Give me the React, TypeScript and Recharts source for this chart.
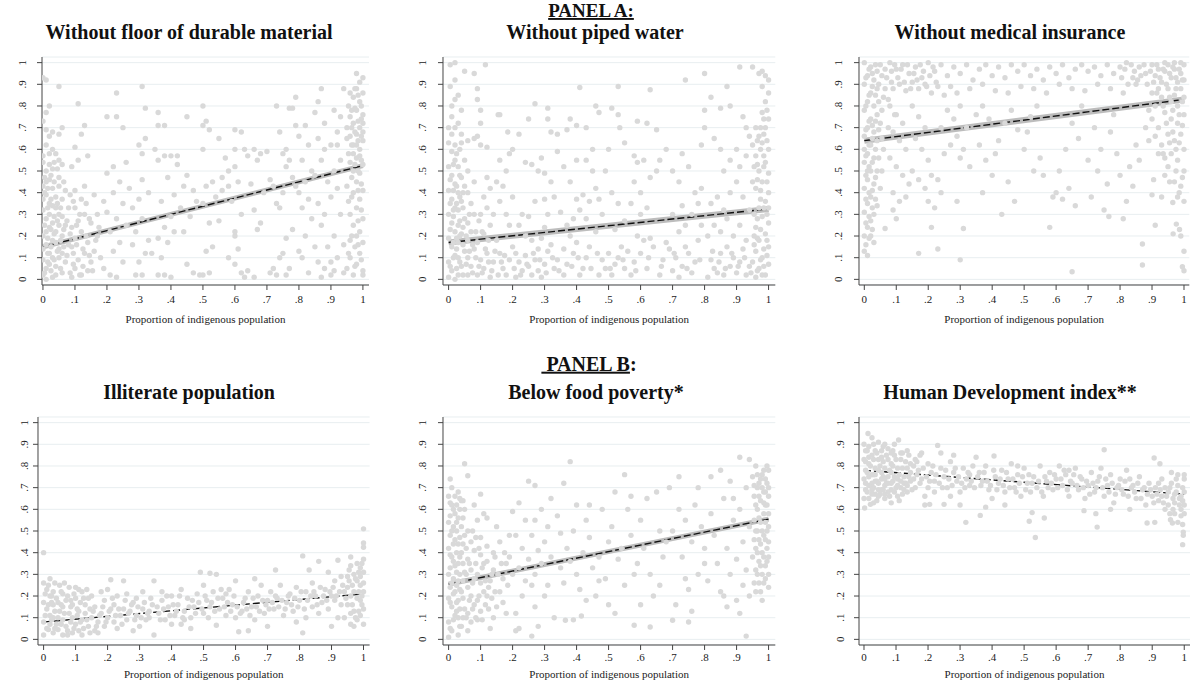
import {
  CartesianGrid,
  ComposedChart,
  Line,
  Scatter,
  XAxis,
  YAxis,
} from "recharts";

type Pt = [number, number];

const FONT = "'Liberation Serif', 'Times New Roman', serif";

const xTicks = [0, 0.1, 0.2, 0.3, 0.4, 0.5, 0.6, 0.7, 0.8, 0.9, 1];
const yTicks = [0, 0.1, 0.2, 0.3, 0.4, 0.5, 0.6, 0.7, 0.8, 0.9, 1];
const axisTitle = "Proportion of indigenous population";

/* fitted values at x = 0 and x = 1 */
const floorFit = [0.15, 0.525];
const waterFit = [0.17, 0.325];
const insuranceFit = [0.64, 0.83];
const illiterateFit = [0.08, 0.21];
const foodFit = [0.255, 0.555];
const hdiFit = [0.78, 0.67];

const floorPts: Pt[] = [
  [0,.02],[.01,.05],[0,.09],[.02,.12],[.01,.16],[0,.2],[.02,.24],[.01,.28],[0,.32],[.02,.35],[.01,.39],[0,.43],[.02,.46],[.01,.5],[0,.54],
  [.03,.01],[.04,.06],[.03,.1],[.05,.14],[.03,.18],[.04,.22],[.03,.26],[.05,.3],[.03,.34],[.04,.38],[.03,.42],[.05,.47],[.03,.51],
  [.06,.03],[.07,.08],[.06,.12],[.08,.16],[.06,.2],[.07,.25],[.06,.29],[.08,.33],[.06,.37],[.07,.41],
  [.01,0],[.02,.07],[0,.14],[.01,.22],[.02,.3],[0,.37],[.01,.45],[.02,.53],[.04,.02],[.05,.1],[.04,.17],[.05,.25],[.04,.33],[.05,.43],
  [0,.93],[.01,.92],[.05,.89],[.02,.8],[.01,.77],[0,.73],[.01,.69],[.03,.68],[.06,.7],[.02,.66],[.05,.67],[.01,.62],[.03,.6],[.04,.58],[0,.57],[.05,.55],[.02,.58],[.06,.53],
  [.09,.01],[.1,.05],[.12,.02],[.14,.04],[.11,.09],[.13,.12],[.09,.15],[.15,.08],[.1,.19],[.12,.22],[.14,.17],[.16,.13],[.09,.24],[.11,.27],[.13,.3],[.1,.33],[.12,.37],[.15,.26],[.17,.2],[.18,.1],[.19,.05],[.17,.3],[.19,.36],[.1,.41],[.13,.43],[.16,.39],[.11,.55],[.14,.57],[.09,.52],[.12,.67],[.1,.61],[.11,.81],[.13,.71],
  [.21,.02],[.23,.01],[.25,.08],[.22,.13],[.24,.17],[.21,.22],[.26,.25],[.23,.28],[.2,.31],[.25,.35],[.22,.4],[.27,.42],[.24,.45],[.28,.16],[.3,.08],[.29,.02],[.31,.02],[.32,.12],[.33,.18],[.29,.22],[.31,.28],[.28,.33],[.3,.37],[.33,.4],[.31,.46],[.3,.62],[.32,.65],[.31,.58],[.34,.12],[.2,.75],[.23,.75],[.23,.86],[.31,.89],[.32,.79],[.25,.7],[.2,.49],[.22,.52],[.26,.54],
  [.36,.02],[.38,.02],[.4,.01],[.37,.1],[.39,.17],[.41,.22],[.38,.24],[.36,.19],[.4,.29],[.43,.33],[.37,.36],[.41,.39],[.44,.43],[.39,.47],[.42,.53],[.36,.55],[.38,.57],[.45,.48],[.47,.41],[.48,.36],[.46,.29],[.44,.22],[.45,.07],[.47,.03],[.49,.02],[.36,.77],[.36,.71],[.38,.71],[.45,.75],[.4,.57],[.42,.57],[.35,.6],
  [.5,.02],[.52,.03],[.51,.13],[.53,.15],[.55,.27],[.52,.26],[.5,.35],[.54,.38],[.51,.43],[.53,.45],[.56,.41],[.5,.8],[.5,.71],[.51,.73],[.52,.69],[.5,.6],[.58,.5],[.57,.56],[.6,.52],[.61,.45],[.59,.36],[.62,.3],[.6,.22],[.6,.2],[.61,.14],[.58,.1],[.6,.07],[.62,.03],[.63,.01],[.64,.04],[.56,.47],[.63,.6],[.6,.6],[.62,.68],[.64,.57],[.58,.43],[.55,.65],[.6,.69],
  [.66,.01],[.68,.26],[.67,.23],[.66,.32],[.69,.4],[.65,.44],[.67,.55],[.66,.6],[.68,.58],[.7,.59],[.72,.05],[.71,.03],[.73,.02],[.74,.1],[.75,.12],[.76,.02],[.77,.05],[.73,.35],[.74,.33],[.75,.4],[.72,.43],[.78,.47],[.76,.52],[.77,.55],[.79,.43],[.75,.58],[.73,.8],[.77,.79],[.78,.79],[.79,.71],[.76,.6],[.78,.23],[.76,.19],[.8,.13],[.74,.68],[.71,.46],
  [.81,.1],[.83,.03],[.82,.2],[.84,.28],[.81,.33],[.83,.37],[.8,.4],[.82,.45],[.84,.5],[.81,.55],[.83,.62],[.8,.66],[.82,.71],[.79,.84],[.85,.77],[.87,.88],[.86,.82],[.88,.72],[.86,.65],[.88,.6],[.87,.55],[.85,.48],[.89,.45],[.86,.35],[.88,.3],[.87,.25],[.85,.15],[.86,.08],[.88,.05],[.87,.01],[.9,.02],[.9,.08],[.91,.04],[.92,.1],[.89,.15],[.91,.2],[.9,.38],[.92,.42],[.91,.5],[.93,.55],[.9,.62],[.92,.68],[.93,.75],[.94,.88],[.91,.78],[.93,.3],[.94,.16],[.94,.03],[.92,.62],
  [.95,.05],[.96,.1],[.97,.02],[.98,.07],[.99,.12],[1,.04],[.96,.18],[.98,.2],[1,.17],[.99,.22],[.97,.25],[.96,.3],[.98,.33],[1,.28],[.99,.37],[.97,.4],[.95,.43],[.98,.45],[1,.41],[.99,.49],[.97,.5],[.96,.54],[.98,.56],[1,.53],[.99,.6],[.97,.62],[.95,.65],[.98,.67],[1,.64],[.99,.7],[.97,.72],[.96,.75],[.98,.78],[1,.76],[.99,.82],[.97,.84],[.98,.88],[1,.86],[.99,.91],[.98,.95],[1,.93],[.96,.86],[1,.02],[.97,.58],[.96,.66],[.95,.7],[.99,.57],[1,.68],[1,.72],[.98,.62],
];
const floorDense: Pt[] = [
  [.005,.03],[.015,.08],[.025,.04],[.035,.09],[.045,.13],[.015,.12],[.025,.15],[.035,.21],[.045,.27],[.015,.19],[.025,.23],[.005,.25],[.035,.29],[.015,.33],[.025,.37],[.045,.35],[.005,.4],[.035,.45],[.015,.42],[.025,.48],[.045,.51],[.005,.47],[.035,.54],[.055,.05],[.065,.15],[.075,.11],[.055,.18],[.065,.23],[.075,.27],[.055,.33],[.065,.45],[.085,.03],[.095,.07],[.085,.21],[.095,.12],[.105,.16],[.115,.02],[.125,.06],[.105,.25],[.115,.3],[.095,.36],[.085,.39],[.135,.2],[.145,.11],[.125,.14],[.155,.04],[.165,.18],[.175,.24],[.135,.35],[.145,.28],
  [.955,.12],[.965,.2],[.975,.15],[.985,.27],[.995,.32],[.955,.36],[.965,.47],[.975,.53],[.985,.41],[.995,.44],[.955,.58],[.965,.62],[.975,.68],[.985,.64],[.995,.74],[.955,.8],[.965,.78],[.975,.88],[.985,.85],[.995,.8],[.975,.79],[.985,.73],[.965,.7],[.995,.66],[.975,.06],[.985,.16],[.995,.09],[.965,.38],[.985,.5],[.995,.55],
];

const waterPts: Pt[] = [
  [0,.01],[.01,.04],[0,.08],[.02,.11],[.01,.15],[0,.19],[.02,.22],[.01,.26],[0,.3],[.02,.33],[.01,.37],[0,.41],[.02,.44],[.01,.48],[0,.52],[.02,.55],[.01,.59],[0,.63],[.01,.67],[0,.7],[.02,.62],
  [.03,.02],[.04,.06],[.03,.1],[.05,.13],[.03,.17],[.04,.21],[.03,.25],[.05,.28],[.03,.32],[.04,.36],[.03,.4],[.05,.43],[.04,.47],[.03,.52],[.05,.55],[.04,.63],[.06,.5],
  [.02,0],[.06,.02],[.07,.06],[.06,.1],[.08,.14],[.06,.18],[.07,.22],[.06,.26],[.08,.3],[.07,.35],[.06,.4],[.08,.45],
  [.005,.99],[.02,1],[.005,.89],[.02,.92],[.05,.96],[.08,.95],[.115,.99],[.09,.88],[.1,.78],[.09,.83],[.02,.83],[.01,.8],[.03,.85],[.01,.75],[.04,.78],[.03,.72],[.02,.7],[.04,.67],[.06,.64],[.08,.65],[.09,.66],[.1,.72],[.12,.61],[.1,.62],
  [.09,.02],[.11,.05],[.13,.01],[.1,.09],[.12,.12],[.14,.08],[.09,.17],[.11,.21],[.13,.25],[.15,.18],[.16,.12],[.17,.05],[.18,.02],[.19,.09],[.1,.3],[.12,.33],[.14,.3],[.11,.38],[.13,.42],[.16,.36],[.18,.3],[.15,.45],[.17,.43],[.19,.25],[.2,.15],[.18,.5],[.16,.55],[.19,.58],[.2,.38],[.12,.47],[.155,.76],[.16,.76],[.185,.68],[.2,.6],
  [.21,.01],[.23,.04],[.22,.08],[.24,.11],[.21,.12],[.25,.06],[.26,.02],[.27,.09],[.28,.14],[.26,.18],[.24,.2],[.22,.25],[.23,.3],[.25,.29],[.27,.36],[.28,.04],[.29,.01],[.3,.07],[.31,.13],[.29,.19],[.3,.24],[.32,.16],[.33,.05],[.34,.09],[.31,.3],[.33,.38],[.3,.37],[.28,.5],[.26,.53],[.24,.54],[.3,.49],[.32,.45],[.35,.31],[.27,.81],[.31,.79],[.25,.74],[.31,.74],[.32,.68],[.34,.67],[.22,.67],[.29,.56],[.34,.59],
  [.36,.02],[.37,.07],[.39,.12],[.36,.14],[.38,.2],[.4,.17],[.42,.05],[.41,.02],[.43,.1],[.44,.15],[.37,.25],[.39,.28],[.41,.32],[.43,.28],[.4,.37],[.42,.39],[.38,.45],[.36,.52],[.4,.55],[.43,.55],[.45,.5],[.46,.42],[.44,.36],[.47,.37],[.48,.3],[.46,.22],[.48,.09],[.49,.05],[.47,.02],[.41,.885],[.46,.8],[.47,.77],[.38,.74],[.4,.71],[.43,.7],[.37,.69],[.45,.6],[.49,.5],
  [.51,.02],[.52,.07],[.5,.12],[.53,.1],[.55,.05],[.54,.15],[.56,.13],[.57,.02],[.58,.08],[.6,.12],[.62,.05],[.61,.18],[.59,.2],[.63,.19],[.64,.15],[.52,.23],[.55,.27],[.53,.35],[.51,.4],[.57,.35],[.6,.3],[.62,.33],[.58,.45],[.6,.4],[.61,.55],[.59,.54],[.63,.47],[.65,.5],[.55,.63],[.51,.79],[.53,.89],[.53,.76],[.535,.7],[.59,.73],[.62,.72],[.63,.875],[.65,.69],[.58,.57],[.5,.6],
  [.66,.02],[.67,.09],[.69,.14],[.68,.17],[.7,.04],[.71,.1],[.72,.01],[.73,.06],[.74,.15],[.75,.12],[.76,.03],[.77,.08],[.78,.18],[.72,.22],[.74,.25],[.7,.3],[.73,.34],[.76,.3],[.78,.35],[.79,.25],[.72,.45],[.7,.5],[.73,.58],[.75,.52],[.68,.6],[.66,.55],[.74,.92],[.77,.4],[.79,.42],[.8,.7],[.8,.78],[.79,.62],
  [.81,.01],[.83,.05],[.82,.09],[.84,.03],[.85,.12],[.86,.02],[.88,.06],[.87,.15],[.89,.1],[.9,.03],[.91,.08],[.92,.14],[.93,.02],[.94,.06],[.81,.2],[.83,.25],[.85,.22],[.87,.28],[.89,.2],[.91,.25],[.93,.18],[.82,.35],[.84,.38],[.86,.32],[.88,.4],[.9,.45],[.92,.38],[.94,.32],[.8,.95],[.91,.98],[.95,.98],[.87,.89],[.82,.84],[.85,.79],[.88,.8],[.92,.75],[.93,.7],[.94,.66],[.9,.6],[.88,.55],[.86,.5],[.91,.52],[.93,.57],[.83,.65],[.85,.6],
  [.96,.01],[.97,.05],[.99,.02],[1,.07],[.98,.1],[.96,.13],[1,.15],[.97,.18],[.99,.21],[.96,.24],[1,.26],[.98,.29],[.97,.33],[.99,.36],[1,.4],[.96,.42],[.98,.45],[1,.49],[.97,.5],[.99,.54],[.96,.57],[1,.6],[.98,.63],[.97,.66],[.99,.7],[1,.74],[.98,.77],[.99,.82],[1,.86],[.98,.89],[1,.92],[.97,.95],[.99,.94],[.98,.96],[.96,.7],[.95,.62],[.95,.45],[.95,.08],[1,.33],[.98,.02],
];
const waterDense: Pt[] = [
  [.005,.06],[.015,.1],[.025,.05],[.035,.08],[.045,.02],[.015,.17],[.025,.14],[.035,.2],[.045,.16],[.005,.23],[.015,.29],[.025,.19],[.035,.27],[.045,.24],[.005,.35],[.015,.32],[.025,.35],[.035,.38],[.045,.33],[.005,.46],[.015,.41],[.025,.43],[.035,.48],[.045,.4],[.025,.58],[.015,.53],[.035,.6],[.055,.07],[.065,.13],[.075,.03],[.085,.1],[.095,.06],[.055,.2],[.065,.3],[.075,.16],[.085,.22],[.095,.27],[.105,.03],[.115,.14],[.125,.08],[.135,.04],[.145,.13],[.155,.02],[.165,.08],[.175,.11],[.105,.22],[.125,.18],
  [.205,.05],[.225,.02],[.245,.07],[.265,.12],[.285,.09],[.305,.03],[.325,.1],[.345,.04],[.385,.06],[.405,.1],[.445,.05],[.465,.12],[.505,.05],[.545,.09],[.585,.04],[.625,.1],[.665,.06],[.705,.12],[.745,.05],[.785,.09],[.825,.13],[.845,.08],[.865,.05],[.885,.12],[.905,.06],[.925,.1],[.945,.03],
  [.965,.04],[.975,.09],[.985,.06],[.995,.11],[.955,.16],[.965,.19],[.975,.23],[.985,.14],[.995,.18],[.965,.28],[.975,.37],[.985,.33],[.995,.3],[.965,.46],[.975,.41],[.985,.52],[.995,.45],[.965,.53],[.975,.6],[.985,.57],[.995,.64],[.975,.7],[.985,.67],[.995,.78],[.985,.74],[.965,.64],[.955,.3],[.955,.2],[.955,.52],
];

const insurancePts: Pt[] = [
  [0,.13],[.01,.11],[.03,.17],[0,.2],[.01,.24],[.02,.27],[0,.31],[.01,.35],[.03,.3],[.02,.38],[0,.42],[.01,.46],[.03,.44],[.02,.5],[0,.54],[.01,.58],[.03,.56],[.02,.62],[0,.66],[.01,.7],[.03,.68],[.02,.74],[0,.78],[.01,.82],[.03,.8],[.02,.86],[0,.9],[.01,.94],[.03,.92],[.02,.98],[0,1],[.04,.96],[.04,.88],[.04,.76],[.04,.64],[.04,.5],[.05,.42],[.04,.34],[.06,.6],[.05,.72],[.06,.84],[.05,.99],[.07,.93],[0,.6],[.01,.5],[.02,.2],
  [.08,1],[.1,.97],[.12,.99],[.14,.95],[.16,.98],[.18,.93],[.2,1],[.22,.96],[.24,.99],[.26,.94],[.28,.98],[.3,.95],[.32,.99],[.34,.92],[.36,.97],[.38,.99],[.4,.94],[.42,.98],[.44,.93],[.46,.99],[.48,.96],[.5,.99],[.52,.94],[.54,.97],[.56,.92],[.58,.98],[.6,.95],[.62,.99],[.64,.93],[.66,.97],[.68,.99],[.7,.96],[.72,.98],[.74,.94],[.76,.99],[.78,.95],[.8,.98],[.82,1],[.84,.93],[.86,.98],[.88,.95],[.9,.99],
  [.09,.88],[.11,.9],[.13,.87],[.15,.91],[.17,.88],[.19,.9],[.21,.86],[.23,.89],[.25,.85],[.27,.89],[.29,.86],[.33,.88],[.37,.9],[.41,.87],[.45,.86],[.49,.89],[.53,.88],[.57,.86],[.61,.9],[.65,.88],[.69,.87],[.73,.9],[.77,.88],[.81,.86],[.85,.9],
  [.08,.8],[.1,.76],[.12,.72],[.09,.68],[.11,.64],[.13,.6],[.08,.56],[.1,.52],[.12,.48],[.14,.44],[.09,.4],[.11,.36],[.13,.38],[.065,.235],[.1,.28],[.09,.32],[.15,.8],[.17,.75],[.19,.7],[.16,.65],[.18,.6],[.2,.55],[.15,.5],[.17,.46],[.19,.42],[.21,.48],[.17,.12],[.21,.24],[.23,.14],[.22,.33],[.2,.36],[.24,.4],[.23,.46],[.25,.58],[.27,.62],[.24,.7],[.26,.78],[.28,.74],[.3,.8],[.29,.66],[.31,.6],[.33,.52],[.3,.56],[.29,.36],[.3,.09],[.31,.235],[.32,.7],[.35,.76],[.37,.8],[.39,.74],[.36,.62],[.38,.55],[.4,.48],[.37,.4],[.41,.58],[.43,.3],[.42,.64],[.44,.72],[.46,.78],[.48,.69],[.45,.45],[.47,.36],[.5,.6],[.52,.75],[.54,.8],[.51,.68],[.53,.5],[.55,.56],[.56,.48],[.58,.24],[.59,.38],[.6,.4],[.61,.5],[.62,.37],[.63,.6],[.64,.42],[.65,.035],[.65,.72],[.67,.65],[.66,.34],[.68,.8],[.7,.55],[.71,.38],[.72,.7],[.73,.5],[.74,.6],[.75,.32],[.765,.29],[.76,.44],[.77,.68],[.78,.76],[.79,.58],[.8,.48],[.81,.28],[.82,.36],[.83,.52],[.84,.43],[.85,.62],[.86,.55],[.87,.066],[.87,.163],[.88,.7],[.89,.64],[.9,.39],[.91,.25],[.905,.46],[.92,.58],[.93,.38],[.94,.48],
  [.91,.94],[.92,.97],[.93,.91],[.94,.96],[.95,.99],[.96,.93],[.97,.97],[.98,.91],[.99,.95],[1,.99],[.95,.88],[.97,.85],[.99,.88],[1,.92],[.96,.82],[.98,.8],[1,.84],[.93,.84],[.91,.8],[.94,.77],[.96,.74],[.98,.72],[1,.76],[.92,.7],[.95,.67],[.97,.64],[.99,.67],[1,.6],[.93,.62],[.96,.58],[.98,.55],[1,.5],[.95,.52],[.97,.45],[.99,.43],[1,.36],[.965,.355],[.976,.255],[.986,.23],[.99,.2],[.966,.21],[1,.13],[.995,.058],[1,.04],[.98,.38],[.94,.56],[.91,.66],[.9,.74],[.89,.78],[.9,.86],[.97,1],[.94,1],[.99,1],[.92,.88],
];
const insuranceDense: Pt[] = [
  [.005,.16],[.015,.19],[.025,.23],[.005,.26],[.015,.29],[.025,.33],[.005,.37],[.015,.4],[.025,.41],[.005,.48],[.015,.52],[.025,.54],[.005,.57],[.015,.62],[.025,.65],[.005,.69],[.015,.73],[.025,.71],[.005,.8],[.015,.85],[.025,.89],[.005,.93],[.015,.97],[.025,.95],[.035,.99],[.035,.85],[.035,.73],[.035,.6],[.035,.47],[.035,.37],[.045,.9],[.045,.82],[.045,.69],[.045,.56],[.055,.94],[.055,.78],[.055,.65],[.055,.5],[.065,.97],[.065,.88],[.075,.83],[.075,.7],[.085,.96],[.085,.91],[.095,.99],[.095,.76],[.105,.93],[.115,.97],[.125,.91],[.135,.99],[.145,.88],[.155,.95],[.165,.92],[.175,.99],[.185,.96],[.195,.89],[.205,.94],[.215,.98],[.225,.91],
  [.805,.93],[.815,.97],[.825,.9],[.835,.99],[.845,.96],[.855,.92],[.865,.94],[.875,.99],[.885,.9],[.895,.96],[.905,.91],[.915,.99],[.925,.93],[.935,.97],[.945,.9],[.955,.95],[.965,.98],[.975,.93],[.985,.97],[.995,.92],[.915,.86],[.935,.8],[.955,.84],[.975,.88],[.995,.82],[.965,.78],[.985,.76],[.945,.72],[.965,.68],[.985,.63],[.995,.71],[.975,.6],[.955,.63],[.935,.58],[.955,.45],[.975,.5],[.995,.47],[.985,.4],
];

const illiteratePts: Pt[] = [
  [0,.4],[0,.02],[.01,.05],[0,.08],[.02,.11],[.01,.14],[0,.17],[.02,.2],[.01,.23],[0,.26],[.03,.03],[.04,.07],[.03,.1],[.05,.13],[.03,.16],[.04,.19],[.03,.22],[.05,.25],[.02,.28],[.06,.02],[.07,.06],[.06,.09],[.08,.12],[.06,.15],[.07,.18],[.06,.21],[.08,.24],[.09,.03],[.1,.07],[.09,.1],[.11,.13],[.09,.16],[.1,.19],[.12,.22],[.11,.04],[.12,.09],[.13,.12],[.14,.06],[.13,.16],[.15,.1],[.14,.19],[.12,.02],[.1,.24],[.11,.23],[.015,.045],[.045,.045],[.075,.04],[.025,.17],[.055,.07],[.085,.08],[.035,.26],[.02,.07],
  [.16,.04],[.17,.08],[.18,.12],[.16,.15],[.19,.06],[.2,.1],[.21,.14],[.19,.18],[.2,.23],[.21,.275],[.22,.08],[.23,.05],[.24,.11],[.22,.16],[.25,.14],[.23,.2],[.25,.27],[.26,.09],[.27,.13],[.28,.17],[.26,.21],[.29,.11],[.3,.06],[.31,.14],[.29,.19],[.32,.09],[.33,.13],[.31,.22],[.34,.16],[.345,.02],[.345,.27],[.33,.1],[.28,.04],[.18,.22],[.15,.2],[.17,.03],
  [.36,.12],[.37,.18],[.38,.09],[.39,.15],[.4,.2],[.41,.11],[.42,.16],[.43,.07],[.44,.13],[.45,.19],[.46,.1],[.47,.15],[.48,.21],[.49,.31],[.5,.12],[.51,.18],[.52,.305],[.53,.22],[.54,.3],[.54,.065],[.55,.14],[.56,.19],[.57,.11],[.58,.23],[.59,.16],[.6,.27],[.61,.035],[.6,.1],[.4,.07],[.43,.23],[.37,.22],[.5,.25],[.46,.05],[.52,.15],[.57,.21],[.44,.09],
  [.62,.13],[.63,.19],[.64,.04],[.64,.22],[.65,.15],[.66,.09],[.67,.2],[.68,.25],[.69,.12],[.7,.06],[.7,.18],[.71,.22],[.72,.14],[.725,.32],[.73,.19],[.74,.25],[.75,.11],[.76,.17],[.77,.21],[.78,.13],[.79,.24],[.8,.18],[.81,.385],[.81,.03],[.82,.1],[.82,.22],[.83,.32],[.84,.15],[.84,.26],[.85,.2],[.86,.36],[.86,.12],[.87,.17],[.88,.23],[.79,.08],[.66,.28],
  [.89,.14],[.9,.2],[.91,.27],[.92,.365],[.92,.1],[.93,.16],[.94,.22],[.95,.29],[.96,.38],[.96,.07],[.97,.13],[.98,.19],[.99,.25],[1,.31],[1,.51],[1,.445],[1,.425],[.96,.34],[.97,.3],[.98,.35],[.99,.33],[1,.37],[.95,.24],[.97,.22],[.99,.18],[1,.14],[.96,.12],[.98,.09],[1,.07],[.99,.11],[.94,.1],[.95,.16],[.97,.06],[.93,.29],[.91,.18],[.9,.06],[.89,.31],[.98,.27],[1,.22],[.96,.2],[.99,.29],[1,.26],
];
const illiterateDense: Pt[] = [
  [.005,.11],[.015,.16],[.025,.09],[.035,.13],[.045,.17],[.005,.21],[.015,.25],[.025,.2],[.035,.05],[.045,.1],[.055,.16],[.065,.12],[.075,.2],[.085,.15],[.095,.05],[.105,.11],[.115,.17],[.125,.05],[.135,.09],[.145,.14],[.055,.22],[.065,.26],[.075,.02],[.085,.18],[.095,.21],[.105,.14],[.115,.08],[.125,.19],[.135,.23],[.145,.03],
  [.155,.13],[.165,.06],[.175,.11],[.185,.15],[.195,.08],[.205,.13],[.215,.19],[.225,.11],[.235,.14],[.245,.07],[.255,.18],[.265,.12],[.275,.16],[.285,.09],[.295,.15],[.305,.1],[.315,.17],[.325,.12],[.335,.19],[.355,.15],[.365,.09],[.375,.14],[.385,.2],[.395,.11],[.405,.16],[.415,.13],[.425,.2],[.435,.1],[.455,.15],[.465,.18],[.475,.12],[.485,.17],[.495,.14],[.505,.2],[.515,.1],[.525,.17],[.535,.13],[.545,.19],[.555,.23],[.565,.15],[.575,.17],[.585,.13],[.595,.2],[.605,.15],[.615,.12],[.625,.17],[.635,.14],[.645,.11],[.655,.19],[.665,.15],[.675,.13],[.685,.18],[.695,.16],[.705,.14],[.715,.17],[.725,.2],[.735,.15],[.745,.18],[.755,.14],[.765,.2],[.775,.16],[.785,.19],[.795,.15],[.805,.22],[.815,.14],[.825,.18],[.835,.2],[.845,.22],[.855,.16],[.865,.24],[.875,.2],[.885,.18],[.895,.22],[.905,.24],[.915,.2],[.925,.22],[.935,.25],[.945,.19],[.955,.27],[.965,.25],[.975,.28],[.985,.22],[.995,.2],[.965,.16],[.975,.1],[.985,.13],[.995,.16],[.955,.32],[.985,.31],[.995,.35],
];

const foodPts: Pt[] = [
  [0,.01],[.01,.04],[0,.08],[.02,.11],[.01,.15],[0,.19],[.02,.22],[.01,.26],[0,.3],[.02,.34],[.01,.38],[0,.42],[.02,.46],[.01,.5],[0,.54],[.02,.58],[.01,.62],[0,.66],[.01,.7],[.005,.74],
  [.03,.02],[.04,.06],[.03,.1],[.05,.14],[.03,.18],[.04,.22],[.03,.27],[.05,.31],[.03,.35],[.04,.4],[.03,.44],[.05,.48],[.04,.52],[.03,.56],[.05,.6],[.04,.64],[.03,.68],[.05,.81],[.06,.755],[.02,.66],
  [.06,.04],[.07,.08],[.06,.12],[.08,.16],[.07,.2],[.06,.24],[.08,.28],[.07,.32],[.06,.37],[.08,.41],[.07,.45],[.06,.5],[.09,.09],[.1,.13],[.09,.18],[.11,.22],[.1,.26],[.09,.3],[.11,.35],[.1,.39],[.12,.43],[.1,.47],[.09,.55],[.11,.58],[.12,.2],[.13,.27],[.14,.32],[.12,.36],[.13,.05],[.15,.15],[.16,.22],[.14,.4],[.16,.45],[.15,.52],[.17,.28],[.18,.35],[.19,.38],[.17,.17],[.18,.12],[.2,.3],[.19,.48],[.2,.59],[.1,.67],[.08,.62],[.12,.56],[.14,.1],
  [.21,.04],[.22,.05],[.21,.12],[.23,.2],[.24,.27],[.22,.33],[.25,.37],[.23,.42],[.21,.48],[.24,.55],[.22,.63],[.26,.015],[.27,.15],[.28,.06],[.26,.25],[.27,.3],[.29,.35],[.28,.41],[.26,.48],[.27,.55],[.29,.6],[.25,.73],[.27,.71],[.3,.2],[.31,.25],[.32,.38],[.3,.45],[.31,.52],[.33,.1],[.32,.65],[.34,.57],[.35,.49],[.35,.33],[.36,.26],[.365,.088],[.37,.42],[.36,.72],[.38,.82],[.39,.09],[.38,.36],[.39,.5],[.4,.62],[.4,.3],
  [.415,.108],[.41,.23],[.42,.4],[.43,.55],[.44,.47],[.45,.33],[.46,.2],[.47,.38],[.48,.6],[.49,.28],[.5,.16],[.5,.45],[.51,.52],[.52,.68],[.53,.37],[.54,.42],[.55,.76],[.55,.25],[.56,.6],[.57,.48],[.58,.065],[.58,.3],[.59,.35],[.6,.55],[.6,.16],[.44,.62],[.47,.27],[.52,.12],[.57,.66],[.43,.18],
  [.61,.42],[.62,.65],[.63,.057],[.63,.3],[.64,.2],[.65,.68],[.66,.5],[.67,.38],[.68,.45],[.69,.7],[.7,.088],[.7,.5],[.71,.16],[.72,.6],[.73,.38],[.74,.55],[.74,.28],[.75,.08],[.75,.23],[.76,.45],[.77,.62],[.78,.3],[.78,.7],[.79,.52],[.8,.35],[.8,.42],[.76,.13],[.72,.75],[.66,.25],
  [.81,.27],[.82,.58],[.83,.48],[.84,.35],[.85,.22],[.86,.65],[.86,.2],[.87,.42],[.88,.73],[.88,.3],[.89,.55],[.9,.18],[.9,.37],[.91,.84],[.91,.6],[.92,.25],[.92,.45],[.93,.015],[.93,.7],[.93,.32],[.94,.83],[.94,.52],[.94,.2],[.95,.75],[.95,.38],[.85,.78],[.87,.15],[.89,.65],[.91,.12],[.82,.75],
  [.96,.22],[.97,.26],[.98,.3],[.99,.34],[1,.38],[.96,.42],[.97,.46],[.98,.5],[.99,.54],[1,.58],[.96,.62],[.97,.66],[.98,.7],[.99,.74],[1,.78],[.96,.8],[.98,.18],[1,.24],[.99,.28],[1,.45],[.99,.62],[1,.66],[1,.7],[.98,.4],[.97,.36],[.96,.32],[.99,.46],[1,.52],[.97,.56],[.98,.76],[1,.3],[.96,.5],[.97,.72],[.99,.68],
];
const foodDense: Pt[] = [
  [.005,.05],[.015,.09],[.025,.13],[.035,.06],[.045,.1],[.005,.17],[.015,.21],[.025,.17],[.035,.14],[.045,.19],[.005,.24],[.015,.28],[.025,.25],[.035,.23],[.045,.27],[.005,.33],[.015,.36],[.025,.31],[.035,.3],[.045,.35],[.005,.39],[.015,.44],[.025,.4],[.035,.38],[.045,.44],[.005,.48],[.015,.52],[.025,.5],[.035,.47],[.045,.56],[.005,.57],[.015,.6],[.025,.54],[.035,.6],[.045,.64],[.005,.63],[.025,.62],[.035,.65],
  [.055,.1],[.065,.18],[.075,.26],[.085,.1],[.095,.2],[.055,.3],[.065,.35],[.075,.14],[.085,.35],[.095,.42],[.105,.09],[.115,.16],[.125,.24],[.135,.3],[.145,.38],[.105,.33],[.115,.27],[.125,.14],[.135,.19],[.145,.22],[.055,.42],[.075,.5],[.085,.47],[.155,.3],[.165,.35],[.175,.4],[.185,.25],
  [.955,.26],[.965,.3],[.975,.34],[.985,.38],[.995,.42],[.955,.46],[.965,.5],[.975,.54],[.985,.58],[.995,.62],[.955,.66],[.965,.7],[.975,.74],[.985,.78],[.995,.8],[.955,.55],[.965,.6],[.975,.64],[.985,.68],[.995,.72],[.965,.4],[.975,.44],[.985,.48],[.995,.5],[.965,.76],[.985,.26],[.995,.36],[.975,.22],[.955,.71],[.985,.63],
];

const hdiPts: Pt[] = [
  [.0125,.95],[0,.9],[.01,.87],[0,.83],[.02,.8],[.01,.77],[0,.74],[.02,.71],[.01,.68],[0,.65],[.002,.606],[.02,.623],[.03,.63],[.03,.9],[.04,.86],[.03,.83],[.05,.8],[.03,.76],[.04,.73],[.03,.7],[.05,.67],[.04,.64],[.06,.89],[.07,.85],[.06,.82],[.08,.78],[.06,.75],[.07,.72],[.06,.69],[.08,.66],[.09,.87],[.1,.83],[.09,.8],[.11,.76],[.09,.73],[.1,.7],[.12,.67],[.108,.92],[.12,.86],[.13,.82],[.12,.79],[.14,.75],[.13,.72],[.15,.69],[.11,.64],[.14,.85],[.015,.84],[.045,.78],[.075,.75],[.025,.72],[.055,.69],[.085,.81],[.035,.67],[.065,.65],
  [.16,.83],[.17,.78],[.18,.74],[.16,.7],[.19,.66],[.2,.81],[.21,.77],[.22,.73],[.19,.62],[.205,.623],[.23,.895],[.24,.79],[.25,.75],[.25,.623],[.26,.7],[.27,.82],[.28,.77],[.29,.73],[.3,.62],[.3,.68],[.31,.79],[.318,.54],[.32,.74],[.33,.71],[.34,.8],[.35,.84],[.18,.86],[.22,.68],[.27,.66],[.2,.7],[.24,.86],[.28,.85],[.33,.76],
  [.363,.572],[.36,.77],[.37,.73],[.38,.61],[.38,.8],[.39,.69],[.406,.846],[.41,.75],[.42,.72],[.43,.78],[.44,.68],[.45,.74],[.46,.81],[.47,.7],[.48,.76],[.49,.66],[.5,.79],[.51,.72],[.516,.545],[.525,.585],[.535,.47],[.52,.68],[.53,.75],[.54,.7],[.55,.8],[.563,.56],[.56,.66],[.57,.73],[.58,.77],[.59,.69],[.6,.74],[.44,.62],[.4,.65],[.48,.8],
  [.61,.8],[.62,.71],[.63,.76],[.64,.66],[.65,.72],[.66,.79],[.67,.69],[.68,.74],[.687,.594],[.69,.65],[.7,.71],[.71,.77],[.72,.68],[.724,.58],[.728,.518],[.73,.73],[.74,.79],[.75,.875],[.75,.66],[.76,.71],[.77,.76],[.78,.63],[.79,.7],[.8,.74],[.81,.67],[.82,.78],[.83,.6],[.84,.71],[.85,.65],[.86,.75],[.87,.69],[.88,.62],[.884,.537],[.89,.72],[.9,.66],[.77,.6],[.64,.78],[.83,.74],
  [.906,.837],[.924,.81],[.908,.54],[.91,.7],[.92,.64],[.93,.74],[.94,.6],[.95,.68],[.957,.552],[.963,.537],[.96,.77],[.97,.63],[.98,.71],[.99,.66],[1,.74],[.995,.437],[.997,.48],[.997,.495],[.995,.53],[.98,.54],[.99,.6],[1,.62],[1,.68],[.96,.72],[.97,.58],[.98,.76],[.99,.57],[1,.76],[.94,.7],[.93,.66],[.95,.62],[.92,.72],[.97,.67],[1,.58],
];
const hdiDense: Pt[] = [
  [.005,.87],[.015,.81],[.025,.85],[.035,.79],[.045,.83],[.055,.87],[.065,.79],[.075,.83],[.085,.77],[.095,.85],[.105,.79],[.115,.83],[.125,.75],[.135,.79],[.145,.73],[.005,.78],[.015,.71],[.025,.76],[.035,.73],[.045,.69],[.055,.74],[.065,.71],[.075,.68],[.085,.72],[.095,.68],[.105,.74],[.115,.7],[.125,.72],[.135,.68],[.145,.77],[.005,.69],[.015,.65],[.025,.67],[.045,.66],[.065,.67],[.085,.63],[.105,.66],
  [.005,.82],[.015,.89],[.025,.93],[.035,.87],[.045,.91],[.055,.84],[.065,.9],[.075,.88],[.085,.86],[.095,.9],[.015,.75],[.035,.76],[.055,.77],[.075,.72],[.095,.75],[.115,.73],[.135,.71],[.005,.72],[.025,.69],[.045,.72],[.065,.74],[.085,.69],[.105,.71],[.125,.69],[.145,.81],[.115,.86],[.135,.87],[.155,.74],[.165,.82],[.175,.85],
  [.155,.8],[.165,.76],[.175,.72],[.185,.79],[.195,.75],[.205,.73],[.215,.8],[.225,.76],[.235,.72],[.245,.7],[.255,.78],[.265,.74],[.275,.71],[.285,.79],[.295,.75],[.305,.72],[.315,.7],[.325,.77],[.335,.73],[.345,.7],[.355,.75],[.365,.71],[.375,.77],[.385,.73],[.395,.71],[.405,.78],[.415,.69],[.425,.74],[.435,.71],[.445,.77],[.455,.7],[.465,.74],[.475,.68],[.485,.72],[.495,.75],[.505,.69],[.515,.76],[.525,.72],[.545,.73],[.555,.68],[.565,.75],[.575,.7],[.585,.72],[.595,.76],[.605,.7],[.615,.74],[.625,.78],[.635,.69],[.645,.73],[.655,.76],[.665,.71],[.675,.75],[.685,.7],[.695,.73],[.705,.67],[.715,.72],[.725,.7],[.735,.75],[.745,.7],[.755,.74],[.765,.68],[.775,.72],[.785,.67],[.795,.71],[.805,.69],[.815,.73],[.825,.66],[.835,.7],[.845,.68],[.855,.72],[.865,.65],[.875,.7],[.885,.67],[.895,.69],[.905,.63],[.915,.67],[.925,.69],[.935,.63],[.945,.66],[.955,.7],[.965,.65],[.975,.68],[.985,.62],[.995,.7],[.965,.6],[.985,.65],[.995,.64],[.975,.74],[.955,.58],
];

const fmt = (v: number) => (v === 0 ? "0" : v === 1 ? "1" : "." + Math.round(v * 10));

const Dot = (props: any) => <circle cx={props.cx} cy={props.cy} r={2.7} fill="#d9d9d9" />;

const YTick = ({ x, y, payload }: any) => (
  <text
    transform={`translate(${x},${y}) rotate(-90)`}
    textAnchor="middle"
    dy="0.35em"
    fontSize={11}
    fontFamily={FONT}
    fill="#222"
  >
    {fmt(payload.value)}
  </text>
);

const YW = 30;
const MT = 5;
const MR = 5;

type PanelProps = {
  pts: Pt[];
  fit: number[];
  band: number;
  axisX: number;
  rightX: number;
  topY: number;
  axisY: number;
  xDom: [number, number];
  yDom: [number, number];
  gap: number;
  xh: number;
  xMargin: number;
  titleOffset: number;
};

const Panel = (p: PanelProps) => {
  const w = p.rightX - p.axisX + YW + MR;
  const h = p.axisY - p.topY + MT + p.xh;
  const dots = p.pts.map(([x, y]) => ({ x, y }));
  const fitLine = [
    { x: 0, y: p.fit[0] },
    { x: 1, y: p.fit[1] },
  ];
  return (
    <div style={{ position: "absolute", left: p.axisX - YW, top: p.topY - MT }}>
      <ComposedChart width={w} height={h} margin={{ top: MT, right: MR, bottom: 0, left: 0 }}>
        <CartesianGrid vertical={false} stroke="#e8eef0" />
        <XAxis
          type="number"
          dataKey="x"
          domain={p.xDom}
          ticks={xTicks}
          interval={0}
          allowDataOverflow
          tickFormatter={fmt}
          height={p.xh}
          tickSize={5}
          tickMargin={p.xMargin}
          stroke="#444"
          tick={{ fontSize: 11, fill: "#222", fontFamily: FONT }}
          label={{
            value: axisTitle,
            position: "insideBottom",
            offset: p.titleOffset,
            fontSize: 11,
            fill: "#222",
            fontFamily: FONT,
          }}
        />
        <YAxis
          type="number"
          dataKey="y"
          domain={p.yDom}
          ticks={yTicks}
          interval={0}
          allowDataOverflow
          width={YW}
          tickSize={5}
          tickMargin={p.gap - 5}
          stroke="#444"
          tick={(t: any) => <YTick {...t} />}
        />
        <Scatter data={dots} shape={Dot} isAnimationActive={false} />
        {p.band > 0 && (
          <Line
            data={fitLine}
            dataKey="y"
            stroke="#bdbdbd"
            strokeWidth={p.band}
            dot={false}
            activeDot={false}
            isAnimationActive={false}
          />
        )}
        <Line
          data={fitLine}
          dataKey="y"
          stroke="#111"
          strokeWidth={1.4}
          strokeDasharray="7 3"
          dot={false}
          activeDot={false}
          isAnimationActive={false}
        />
      </ComposedChart>
    </div>
  );
};

const topRow = { topY: 57, axisY: 285, yDom: [-0.026, 1.026] as [number, number], xh: 42, xMargin: 5, titleOffset: 4 };
const bottomRow = { topY: 417, axisY: 645, yDom: [-0.026, 1.026] as [number, number], xh: 38, xMargin: 3, titleOffset: 5 };

const App = () => (
  <div style={{ position: "absolute", left: 0, top: 0, width: 1200, height: 683, background: "#fff", overflow: "hidden" }}>
    <svg width={1200} height={683} style={{ position: "absolute", left: 0, top: 0 }}>
      <g fontFamily={FONT} fontWeight="bold" fontSize={20} fill="#111" textAnchor="middle">
        <text x={591} y={17} fontSize={19} textDecoration="underline">PANEL A:</text>
        <text x={189} y={39.3}>Without floor of durable material</text>
        <text x={595} y={39.3}>Without piped water</text>
        <text x={1010} y={39.3}>Without medical insurance</text>
        <text x={589} y={370.7} style={{ whiteSpace: "pre" }}>
          <tspan textDecoration="underline"> PANEL B</tspan>:
        </text>
        <text x={189} y={399.3}>Illiterate population</text>
        <text x={596} y={399.3}>Below food poverty*</text>
        <text x={1010} y={399.3}>Human Development index**</text>
      </g>
    </svg>
    <Panel {...topRow} pts={[...floorPts, ...floorDense]} fit={floorFit} band={5} axisX={42.3} rightX={369.3} xDom={[-0.003, 1.019]} gap={20} />
    <Panel {...topRow} pts={[...waterPts, ...waterDense]} fit={waterFit} band={6} axisX={442.7} rightX={775} xDom={[-0.0175, 1.021]} gap={21} />
    <Panel {...topRow} pts={[...insurancePts, ...insuranceDense]} fit={insuranceFit} band={6} axisX={859} rightX={1189.3} xDom={[-0.0166, 1.0166]} gap={21} />
    <Panel {...bottomRow} pts={[...illiteratePts, ...illiterateDense]} fit={illiterateFit} band={0} axisX={37.7} rightX={369.3} xDom={[-0.0175, 1.019]} gap={14} />
    <Panel {...bottomRow} pts={[...foodPts, ...foodDense]} fit={foodFit} band={5} axisX={442.7} rightX={775} xDom={[-0.0175, 1.021]} gap={21} />
    <Panel {...bottomRow} pts={[...hdiPts, ...hdiDense]} fit={hdiFit} band={0} axisX={859} rightX={1190} xDom={[-0.0156, 1.018]} gap={19} />
  </div>
);

export default App;
